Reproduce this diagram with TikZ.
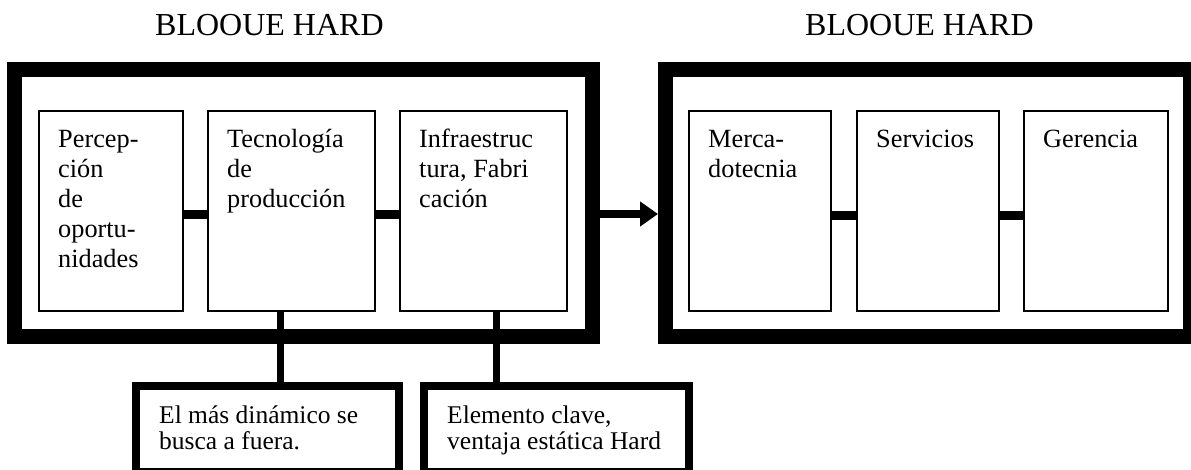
\documentclass[tikz,border=0pt]{standalone}
\usepackage{fontspec}
\setmainfont{Liberation Serif}
\usetikzlibrary{arrows.meta}
\tikzset{
  outerbox/.style={draw=black, line width=15pt, rectangle, inner sep=0pt},
  inbox/.style={draw=black, line width=2pt, rectangle, inner sep=0pt, minimum height=200pt},
  callbox/.style={draw=black, line width=8pt, rectangle, inner sep=0pt, minimum height=86pt},
  btxt/.style={inner sep=0pt, anchor=north west, align=left, font=\fontsize{26.3}{30}\selectfont},
  ctxt/.style={inner sep=0pt, anchor=north west, align=left, font=\fontsize{25.5}{26}\selectfont},
  ttl/.style={inner sep=0pt, anchor=base west, font=\fontsize{32}{36}\selectfont},
  link/.style={draw=black, line width=9pt},
  vlink/.style={draw=black, line width=7pt},
  flow/.style={draw=black, line width=8pt, -{Triangle[length=18pt,width=24pt]}}
}
\begin{document}
\begin{tikzpicture}[x=1pt,y=-1pt]
\useasboundingbox (0,0) rectangle (1191,470);
% titles
\node[ttl] (t1) at (155,36) {BLOOUE HARD};
\node[ttl] (t2) at (805,36) {BLOOUE HARD};
% outer boxes
\node[outerbox, minimum width=578pt, minimum height=267pt] (L) at (303.5,203) {};
\node[outerbox, minimum width=525pt, minimum height=267pt] (R) at (928,203) {};
% inner boxes left
\node[inbox, minimum width=144pt] (b1) at (111,211) {};
\node[inbox, minimum width=167pt] (b2) at (291.5,211) {};
\node[inbox, minimum width=167pt] (b3) at (483.5,211) {};
% inner boxes right
\node[inbox, minimum width=142pt] (b4) at (760,211) {};
\node[inbox, minimum width=142pt] (b5) at (928,211) {};
\node[inbox, minimum width=144pt] (b6) at (1096,211) {};
% texts
\node[btxt] (x1) at ([xshift=20pt,yshift=-16pt]b1.north west) {\strut Percep-\\ción\\de\\oportu-\\nidades};
\node[btxt] (x2) at ([xshift=20pt,yshift=-16pt]b2.north west) {\strut Tecnología\\de\\producción};
\node[btxt] (x3) at ([xshift=20pt,yshift=-16pt]b3.north west) {\strut Infraestruc\\tura, Fabri\\cación};
\node[btxt] (x4) at ([xshift=20pt,yshift=-16pt]b4.north west) {\strut Merca-\\dotecnia};
\node[btxt] (x5) at ([xshift=20pt,yshift=-16pt]b5.north west) {\strut Servicios};
\node[btxt] (x6) at ([xshift=20pt,yshift=-16pt]b6.north west) {\strut Gerencia};
% callouts
\node[callbox, minimum width=263pt] (cA) at (267.5,429) {};
\node[callbox, minimum width=265pt] (cB) at (556.5,429) {};
\node[ctxt] (y1) at ([xshift=27pt,yshift=-22.8pt]cA.north west) {\strut El más dinámico se\\busca a fuera.};
\node[ctxt] (y2) at ([xshift=27pt,yshift=-22.8pt]cB.north west) {\strut Elemento clave,\\ventaja estática Hard};
% links
\draw[link] ([yshift=-4pt]b1.east) -- ([yshift=-4pt]b2.west);
\draw[link] ([yshift=-4pt]b2.east) -- ([yshift=-4pt]b3.west);
\draw[link] ([yshift=-5pt]b4.east) -- ([yshift=-5pt]b5.west);
\draw[link] ([yshift=-5pt]b5.east) -- ([yshift=-5pt]b6.west);
\draw[vlink] ([xshift=-11.5pt]b2.south) -- ([xshift=-11.5pt]b2.south |- cA.north);
\draw[vlink] ([xshift=12.5pt]b3.south) -- ([xshift=12.5pt]b3.south |- cB.north);
\draw[flow] ([yshift=-11pt]L.east) -- ([yshift=-11pt]L.east -| R.west);
\end{tikzpicture}
\end{document}
